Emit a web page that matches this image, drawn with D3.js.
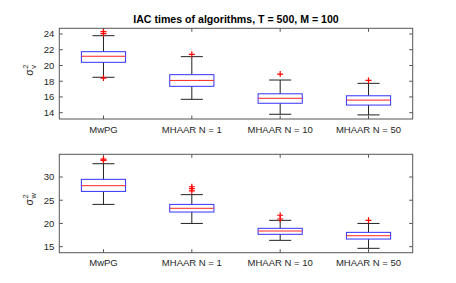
<!DOCTYPE html>
<html>
<head>
<script src="https://d3js.org/d3.v7.min.js"></script>
<style>
  body { margin: 0; background: #fff; }
  text { font-family: "Liberation Sans", Arial, sans-serif; fill: #262626; }
</style>
</head>
<body>
<div id="chart"></div>
<script>
  var width = 456, height = 283;

  var categories = ["MwPG", "MHAAR N = 1", "MHAAR N = 10", "MHAAR N = 50"];

  // sigma_v^2 panel
  var vLo   = [18.5, 15.7, 13.8, 13.72];
  var vQ1   = [20.4, 17.35, 15.2, 14.97];
  var vMed  = [21.17, 18.1, 15.83, 15.6];
  var vQ3   = [21.75, 18.83, 16.4, 16.15];
  var vHi   = [23.78, 21.12, 18.15, 17.73];
  var vOut  = [[24.3, 24.05, 18.4], [21.42], [18.9], [18.1]];
  var vTicks = [14, 16, 18, 20, 22, 24];

  // sigma_w^2 panel
  var wLo   = [24.1, 20.0, 16.36, 14.64];
  var wQ1   = [26.9, 22.46, 17.66, 16.64];
  var wMed  = [28.13, 23.26, 18.37, 17.36];
  var wQ3   = [29.5, 24.1, 18.95, 18.08];
  var wHi   = [32.86, 26.2, 20.67, 20.0];
  var wOut  = [[33.85, 33.6], [27.9, 27.5, 27.0], [21.77, 20.96], [20.67]];
  var wTicks = [15, 20, 25, 30];

  var svg = d3.select("#chart").append("svg")
    .attr("width", width)
    .attr("height", height);

  var axColor = "#555";
  var left = 59.3, right = 412.7;

  svg.append("text")
    .attr("x", (left + right) / 2)
    .attr("y", 23)
    .attr("text-anchor", "middle")
    .style("font-size", "10.6px")
    .style("font-weight", "bold")
    .style("fill", "#000")
    .text("IAC times of algorithms, T = 500, M = 100");

  function panel(top, bottom, domain, ticks, lo, q1, med, q3, hi, outs, sub) {
    var x = d3.scaleBand().domain(categories).range([left, right]).padding(0);
    var y = d3.scaleLinear().domain(domain).range([bottom, top]);
    var g = svg.append("g");
    var bw = x.bandwidth() * 0.5;
    var tl = 3.5;

    // ticks (inside, all four sides)
    ticks.forEach(function (t) {
      g.append("line").attr("x1", left).attr("x2", left + tl)
        .attr("y1", y(t)).attr("y2", y(t)).attr("stroke", axColor);
      g.append("line").attr("x1", right).attr("x2", right - tl)
        .attr("y1", y(t)).attr("y2", y(t)).attr("stroke", axColor);
      g.append("text").attr("x", left - 5).attr("y", y(t))
        .attr("dy", "0.35em").attr("text-anchor", "end")
        .style("font-size", "9.5px").text(t);
    });
    categories.forEach(function (c) {
      var cx = x(c) + x.bandwidth() / 2;
      g.append("line").attr("x1", cx).attr("x2", cx)
        .attr("y1", bottom).attr("y2", bottom - tl).attr("stroke", axColor);
      g.append("line").attr("x1", cx).attr("x2", cx)
        .attr("y1", top).attr("y2", top + tl).attr("stroke", axColor);
      g.append("text").attr("x", cx).attr("y", bottom + 13.5)
        .attr("text-anchor", "middle")
        .style("font-size", "9.5px").text(c);
    });

    // boxes
    categories.forEach(function (c, i) {
      var cx = x(c) + x.bandwidth() / 2;
      g.append("line").attr("x1", cx).attr("x2", cx)
        .attr("y1", y(hi[i])).attr("y2", y(q3[i])).attr("stroke", "#222");
      g.append("line").attr("x1", cx).attr("x2", cx)
        .attr("y1", y(q1[i])).attr("y2", y(lo[i])).attr("stroke", "#222");
      [hi[i], lo[i]].forEach(function (v) {
        g.append("line").attr("x1", cx - bw / 4).attr("x2", cx + bw / 4)
          .attr("y1", y(v)).attr("y2", y(v)).attr("stroke", "#222");
      });
      g.append("rect").attr("x", cx - bw / 2).attr("width", bw)
        .attr("y", y(q3[i])).attr("height", y(q1[i]) - y(q3[i]))
        .attr("fill", "none").attr("stroke", "#3333ff");
      g.append("line").attr("x1", cx - bw / 2).attr("x2", cx + bw / 2)
        .attr("y1", y(med[i])).attr("y2", y(med[i])).attr("stroke", "#ff2222");
      outs[i].forEach(function (v) {
        var py = y(v), s = 3;
        g.append("path")
          .attr("d", "M" + (cx - s) + "," + py + "H" + (cx + s) +
                     "M" + cx + "," + (py - s) + "V" + (py + s))
          .attr("stroke", "#ff0000").attr("stroke-width", 1.2).attr("fill", "none");
      });
    });

    // axes box
    g.append("rect").attr("x", left).attr("y", top)
      .attr("width", right - left).attr("height", bottom - top)
      .attr("fill", "none").attr("stroke", axColor);

    // y label sigma^2_sub
    var ly = (top + bottom) / 2 - 2;
    var lab = g.append("g").attr("transform", "translate(33," + (ly + 4) + ") rotate(-90)");
    lab.append("text").attr("x", 0).attr("y", 0)
      .style("font-size", "10.5px").text("\u03c3");
    lab.append("text").attr("x", 7).attr("y", -5)
      .style("font-size", "7.5px").text("2");
    lab.append("text").attr("x", 7).attr("y", 2.5)
      .style("font-size", "7.5px").text(sub);
  }

  panel(28.3, 119, [13.2, 24.72], vTicks, vLo, vQ1, vMed, vQ3, vHi, vOut, "v");
  panel(154.3, 252.7, [13.7, 34.89], wTicks, wLo, wQ1, wMed, wQ3, wHi, wOut, "w");
</script>
</body>
</html>
